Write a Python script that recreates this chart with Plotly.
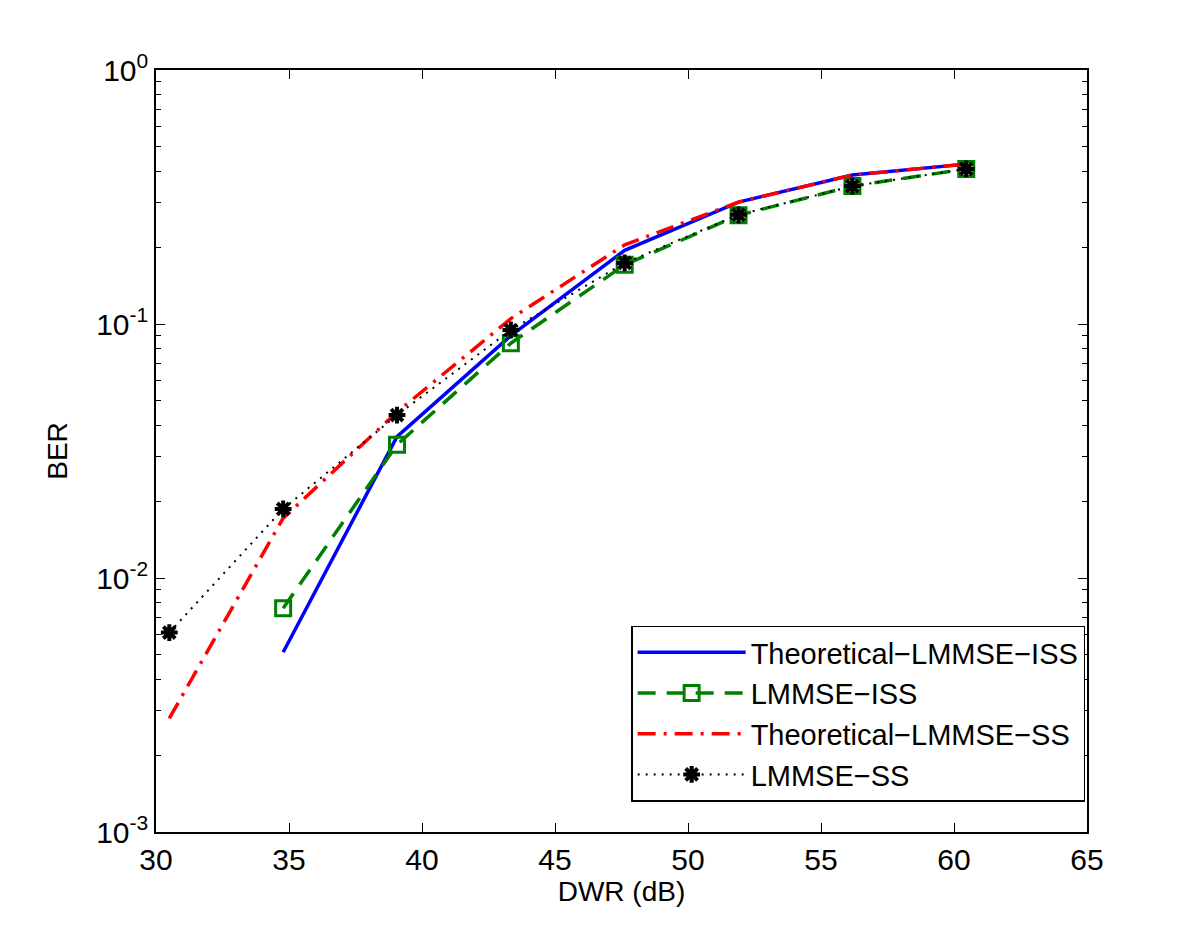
import plotly.graph_objects as go

# ---- data ----
dwr = [30.5, 34.78, 39.06, 43.34, 47.62, 51.9, 56.18, 60.46]
theo_iss = [None, 0.0051, 0.036, 0.090, 0.195, 0.302, 0.386, 0.426]
lmmse_iss = [None, 0.0076, 0.0335, 0.084, 0.171, 0.268, 0.349, 0.408]
theo_ss = [0.0028, 0.0172, 0.045, 0.105, 0.205, 0.302, 0.386, 0.426]
lmmse_ss = [0.0061, 0.0187, 0.0438, 0.0947, 0.174, 0.269, 0.349, 0.408]

x_ticks = [30, 35, 40, 45, 50, 55, 60, 65]
y_ticks = [1, 0.1, 0.01, 0.001]
y_tick_text = ["10<sup>0</sup>", "10<sup>-1</sup>", "10<sup>-2</sup>", "10<sup>-3</sup>"]
y_minor = [m * 10 ** e for e in (-3, -2, -1) for m in range(2, 10)]

FONT = "Liberation Sans, Arial, Helvetica, sans-serif"

fig = go.Figure()
fig.add_trace(go.Scatter(
    x=dwr, y=theo_iss, mode="lines", name="Theoretical\u2212LMMSE\u2212ISS",
    line=dict(color="#0000FF", width=3.5), connectgaps=False))
fig.add_trace(go.Scatter(
    x=dwr, y=lmmse_iss, mode="lines+markers", name="LMMSE\u2212ISS",
    line=dict(color="#008000", width=3.5, dash="18px,11px"),
    marker=dict(symbol="square-open", size=15, color="#008000",
                line=dict(color="#008000", width=3))))
fig.add_trace(go.Scatter(
    x=dwr, y=theo_ss, mode="lines", name="Theoretical\u2212LMMSE\u2212SS",
    line=dict(color="#FF0000", width=3.5, dash="18px,8px,3px,8px")))
fig.add_trace(go.Scatter(
    x=dwr, y=lmmse_ss, mode="lines+markers", name="LMMSE\u2212SS",
    line=dict(color="#000000", width=2, dash="2px,6px"),
    marker=dict(symbol="asterisk-open", size=14, color="#000000",
                line=dict(color="#000000", width=4))))

axis_common = dict(
    showgrid=False, zeroline=False, showline=True, linecolor="black",
    linewidth=1.5, mirror="ticks", ticks="inside", tickcolor="black",
    tickwidth=1.2, ticklen=9,
    tickfont=dict(family=FONT, size=30, color="black"),
)

fig.update_layout(
    width=1200, height=937,
    margin=dict(l=156, r=113, t=70, b=105),
    paper_bgcolor="white", plot_bgcolor="white",
    font=dict(family=FONT, size=28, color="black"),
    xaxis=dict(
        range=[30, 65], tickmode="array", tickvals=x_ticks,
        title=dict(text="DWR (dB)", font=dict(family=FONT, size=28), standoff=4),
        **axis_common),
    yaxis=dict(
        type="log", range=[-3, 0], tickmode="array", tickvals=y_ticks,
        ticktext=y_tick_text,
        minor=dict(tickmode="array", tickvals=y_minor, ticks="inside",
                   ticklen=5, tickcolor="black", tickwidth=1, showgrid=False),
        title=dict(text="BER", font=dict(family=FONT, size=28), standoff=20),
        **axis_common),
    legend=dict(
        x=0.998, xanchor="right", y=0.04, yanchor="bottom",
        bgcolor="white", bordercolor="black", borderwidth=1.5,
        font=dict(family=FONT, size=29, color="black"),
        itemwidth=108, tracegroupgap=0,
    ),
    showlegend=True,
)

fig.write_html(
    "out.html",
    config={"displayModeBar": False},
    post_script="document.body.style.margin='0';document.body.style.padding='0';",
)
